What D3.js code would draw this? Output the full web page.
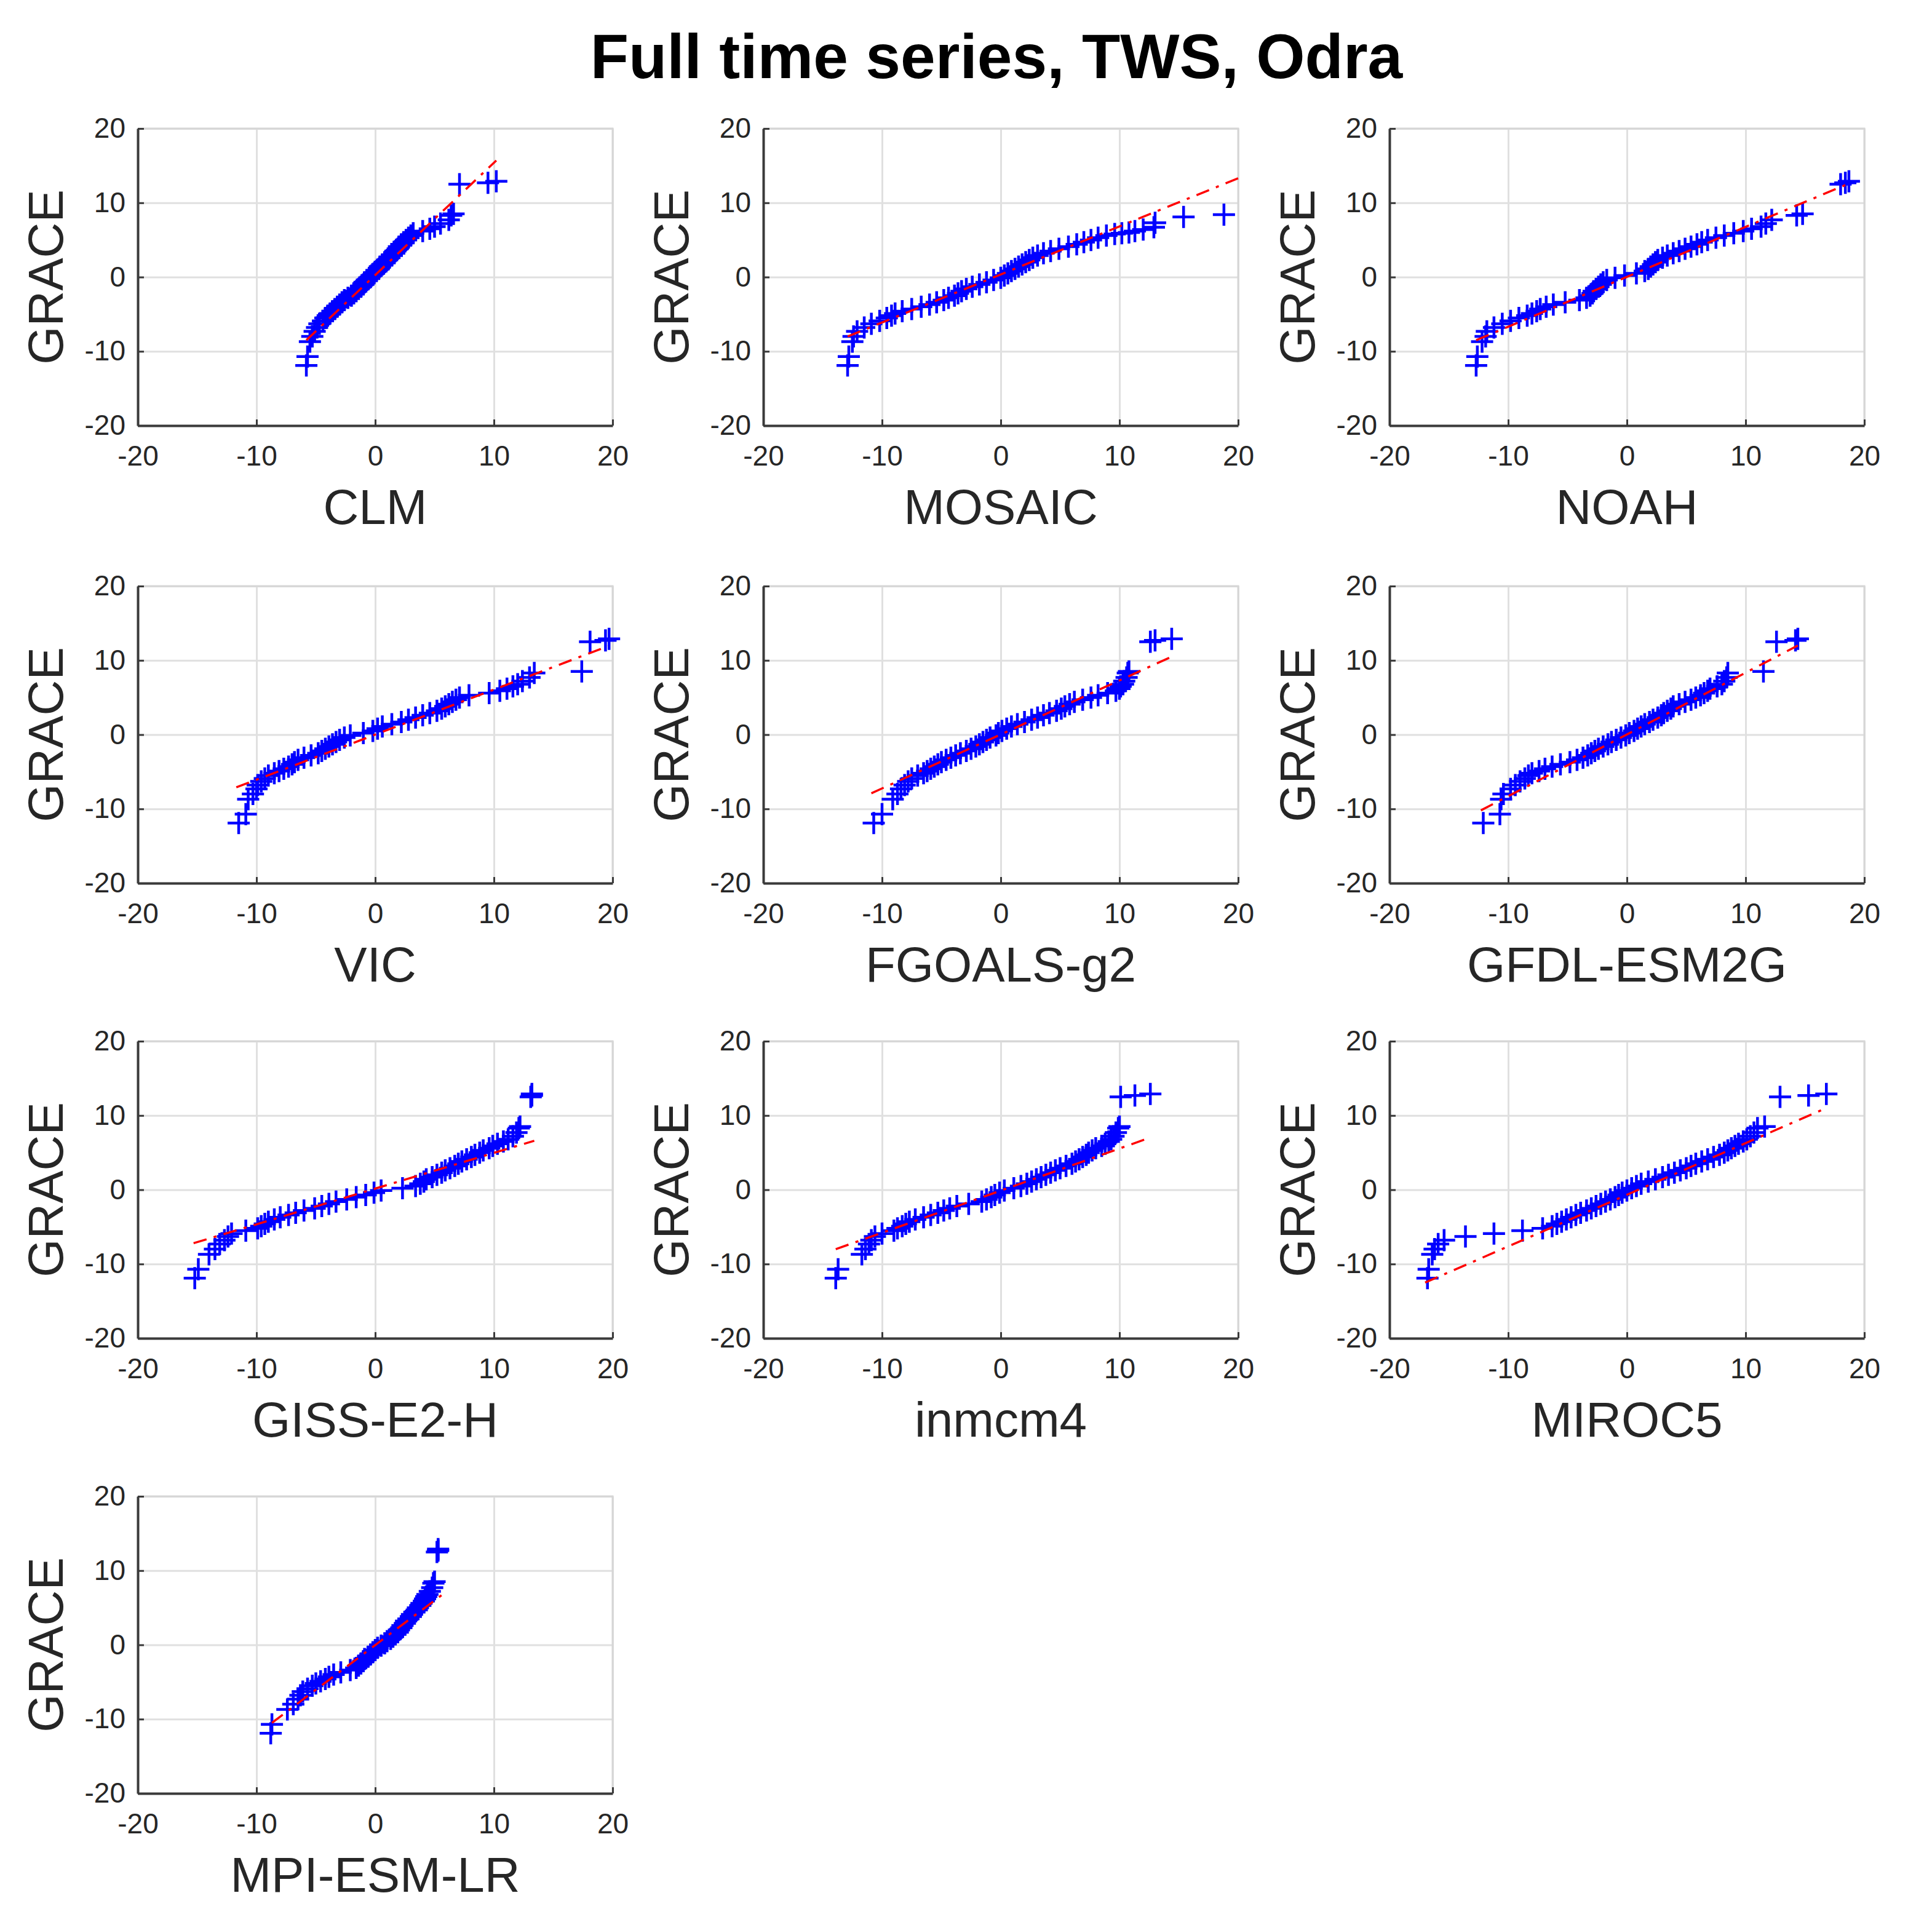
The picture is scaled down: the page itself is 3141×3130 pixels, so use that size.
<!DOCTYPE html>
<html>
<head>
<meta charset="utf-8">
<script src="https://cdn.jsdelivr.net/npm/d3@7"></script>
<style>
  body { margin: 0; background: #ffffff; }
  svg { display: block; }
</style>
</head>
<body>
<div id="chart"></div>
<script>
// Q-Q plots of GRACE TWS against each model, Odra basin

var models = ["CLM", "MOSAIC", "NOAH", "VIC", "FGOALS-g2", "GFDL-ESM2G",
              "GISS-E2-H", "inmcm4", "MIROC5", "MPI-ESM-LR"];

var tickValues = [-20, -10, 0, 10, 20];

// sorted GRACE quantiles (y axis of every panel except MOSAIC)
var graceQ = [-11.9, -10.7, -8.7, -8.0, -7.3, -6.8, -6.3, -5.9, -5.5, -5.2,
              -4.9, -4.6, -4.3, -4.0, -3.7, -3.4, -3.1, -2.8, -2.5, -2.2,
              -1.9, -1.6, -1.3, -1.0, -0.7, -0.4, -0.1, 0.2, 0.5, 0.8,
              1.1, 1.4, 1.7, 2.0, 2.3, 2.6, 2.9, 3.2, 3.5, 3.8,
              4.1, 4.4, 4.7, 5.0, 5.3, 5.6, 5.9, 6.2, 6.5, 6.8,
              7.2, 7.7, 8.3, 8.5, 12.5, 12.7, 12.9];

// GRACE quantiles interpolated to the MOSAIC sample
var mosaicGraceQ = [-11.9, -10.7, -8.7, -8.0, -7.3, -6.8, -6.3, -5.9, -5.5, -5.2,
              -4.9, -4.6, -4.3, -4.0, -3.7, -3.4, -3.1, -2.8, -2.5, -2.2,
              -1.9, -1.6, -1.3, -1.0, -0.7, -0.4, -0.1, 0.2, 0.5, 0.8,
              1.1, 1.4, 1.7, 2.0, 2.3, 2.6, 2.9, 3.2, 3.5, 3.8,
              4.1, 4.4, 4.7, 5.0, 5.3, 5.6,
              5.8, 5.9, 6.0, 6.2, 6.4, 6.7, 7.3, 8.1, 8.4];

// sorted model quantiles (x axis)
var clmQ = [-5.8, -5.7, -5.5, -5.3, -5.1, -4.9, -4.7, -4.4, -4.2, -4.0,
            -3.8, -3.6, -3.4, -3.2, -3.0, -2.8, -2.6, -2.3, -2.0, -1.8,
            -1.6, -1.4, -1.2, -1.0, -0.9, -0.7, -0.5, -0.3, -0.1, 0.1,
            0.3, 0.4, 0.6, 0.8, 1.0, 1.2, 1.4, 1.6, 1.7, 1.9,
            2.0, 2.2, 2.4, 2.6, 2.8, 3.0, 3.2, 4.0, 4.6, 5.0,
            5.5, 6.2, 6.4, 6.6, 7.1, 9.5, 10.2];

var mosaicQ = [-12.9, -12.8, -12.5, -12.4, -12.1, -11.5, -10.9, -10.2, -9.6, -9.2,
               -8.9, -8.3, -7.5, -6.7, -6.0, -5.4, -4.8, -4.4, -3.9, -3.6,
               -3.3, -2.9, -2.4, -1.8, -1.2, -0.6, 0.0, 0.3, 0.6, 0.9,
               1.2, 1.5, 1.8, 2.1, 2.4, 2.7, 3.1, 3.6, 4.2, 4.9,
               5.7, 6.4, 7.0, 7.6, 8.2, 8.9,
               9.6, 10.2, 10.8, 11.3, 12.0, 12.9, 13.0, 15.4, 18.8];

var noahQ = [-12.7, -12.6, -12.2, -11.9, -11.8, -11.2, -10.5, -9.8, -9.1, -8.4,
             -8.0, -7.6, -7.3, -6.8, -6.2, -5.2, -4.0, -3.4, -3.1, -2.9,
             -2.8, -2.6, -2.4, -2.2, -2.0, -1.7, -1.0, -0.2, 0.8, 1.5,
             1.8, 2.0, 2.2, 2.4, 2.6, 3.0, 3.4, 3.9, 4.4, 4.9,
             5.4, 5.9, 6.3, 6.8, 7.5, 8.2, 9.0, 9.8, 10.5, 11.3,
             11.7, 12.2, 14.3, 14.8, 18.0, 18.4, 18.7];

var vicQ = [-11.5, -10.9, -10.7, -10.3, -10.0, -9.9, -9.6, -9.3, -9.0, -8.5,
            -8.1, -7.7, -7.3, -7.0, -6.8, -6.5, -6.0, -5.4, -4.8, -4.5,
            -4.2, -3.9, -3.6, -3.3, -3.0, -2.6, -2.1, -1.0, -0.2, 0.2,
            0.6, 1.4, 2.2, 2.8, 3.4, 4.0, 4.6, 5.2, 5.6, 5.9,
            6.2, 6.5, 6.8, 7.1, 7.9, 9.6, 10.5, 11.1, 11.6, 12.0,
            12.4, 13.0, 13.4, 17.4, 18.1, 19.4, 19.7];

var fgoalsQ = [-10.7, -10.0, -9.1, -8.7, -8.4, -8.1, -7.8, -7.5, -7.0, -6.5,
               -6.2, -5.9, -5.6, -5.3, -5.0, -4.6, -4.2, -3.8, -3.4, -2.9,
               -2.5, -2.1, -1.8, -1.5, -1.2, -0.9, -0.4, -0.2, 0.1, 0.5,
               0.9, 1.4, 2.0, 2.6, 3.1, 3.6, 4.1, 4.7, 5.1, 5.4,
               5.8, 6.2, 6.9, 7.6, 8.2, 9.0, 9.7, 10.0, 10.1, 10.3,
               10.4, 10.6, 10.7, 10.8, 12.6, 13.0, 14.4];

var gfdlQ = [-12.1, -10.7, -10.6, -10.4, -9.8, -9.4, -9.0, -8.6, -8.3, -8.0,
             -7.4, -6.9, -6.3, -5.6, -4.8, -4.2, -3.7, -3.3, -3.0, -2.7,
             -2.4, -2.0, -1.6, -1.3, -0.9, -0.5, -0.1, 0.2, 0.6, 0.9,
             1.2, 1.5, 1.9, 2.2, 2.6, 2.9, 3.1, 3.4, 3.7, 3.9,
             4.4, 4.9, 5.4, 5.8, 6.2, 6.5, 6.8, 7.0, 7.6, 8.0,
             8.2, 8.4, 8.5, 11.5, 12.6, 14.2, 14.4];

var gissQ = [-15.2, -14.9, -14.0, -13.5, -13.1, -12.7, -12.4, -12.1, -10.9, -9.9,
             -9.6, -9.3, -9.0, -8.5, -8.0, -7.3, -6.7, -6.0, -5.1, -4.5,
             -3.9, -3.3, -2.4, -1.6, -0.8, -0.1, 0.5, 2.3, 3.4, 3.8,
             4.1, 4.3, 4.8, 5.2, 5.6, 5.9, 6.3, 6.7, 7.0, 7.3,
             7.7, 8.1, 8.4, 8.8, 9.1, 9.6, 9.9, 10.3, 10.8, 11.2,
             11.6, 11.9, 12.1, 12.2, 13.1, 13.2, 13.2];

var inmcm4Q = [-13.9, -13.7, -11.7, -11.4, -11.1, -10.9, -10.6, -10.0, -9.0, -8.7,
               -8.3, -8.0, -7.7, -7.2, -6.5, -5.9, -5.3, -4.8, -4.3, -3.7,
               -2.7, -1.6, -1.2, -0.8, -0.5, -0.1, 0.3, 1.1, 1.7, 2.2,
               2.6, 3.0, 3.4, 3.8, 4.2, 4.6, 5.0, 5.5, 6.0, 6.3,
               6.6, 6.9, 7.2, 7.4, 7.7, 8.0, 8.5, 8.8, 9.1, 9.3,
               9.5, 9.7, 9.9, 10.0, 10.1, 11.3, 12.6];

var miroc5Q = [-16.8, -16.7, -16.4, -16.2, -15.9, -15.4, -13.6, -11.2, -8.8, -7.1,
               -6.3, -5.9, -5.5, -5.1, -4.7, -4.3, -3.9, -3.4, -3.0, -2.6,
               -2.2, -1.8, -1.4, -1.0, -0.7, -0.4, 0.0, 0.4, 0.8, 1.2,
               1.8, 2.4, 3.0, 3.5, 4.0, 4.5, 5.0, 5.4, 5.8, 6.3,
               6.8, 7.3, 7.8, 8.2, 8.5, 8.8, 9.1, 9.4, 9.8, 10.1,
               10.4, 10.7, 11.0, 11.6, 12.9, 15.3, 16.8];

var mpiQ = [-8.8, -8.7, -7.4, -6.9, -6.5, -6.3, -6.1, -5.7, -5.3, -5.0,
            -4.6, -4.2, -3.9, -3.5, -2.9, -2.1, -1.6, -1.4, -1.2, -1.0,
            -0.9, -0.6, -0.4, -0.2, 0.0, 0.2, 0.5, 0.8, 1.0, 1.3,
            1.5, 1.7, 1.9, 2.0, 2.2, 2.3, 2.5, 2.6, 2.8, 3.0,
            3.1, 3.3, 3.5, 3.6, 3.8, 3.9, 4.1, 4.2, 4.3, 4.4,
            4.6, 4.8, 4.9, 5.0, 5.2, 5.3, 5.3];

// quartile reference lines, [x1, y1, x2, y2]
var refLines = [[-5.8, -8.5, 10.2, 15.7],
                [-12.9, -8.0, 20.0, 13.3],
                [-12.7, -8.5, 18.7, 12.6],
                [-11.7, -7.1, 19.6, 11.9],
                [-10.9, -7.9, 14.4, 10.5],
                [-12.3, -10.2, 14.4, 12.0],
                [-15.3, -7.2, 13.4, 6.6],
                [-13.9, -8.0, 12.2, 6.8],
                [-17.0, -12.5, 16.5, 10.8],
                [-8.7, -10.5, 5.6, 6.7]];

var modelQ = [clmQ, mosaicQ, noahQ, vicQ, fgoalsQ, gfdlQ, gissQ, inmcm4Q, miroc5Q, mpiQ];
var graceFor = [graceQ, mosaicGraceQ, graceQ, graceQ, graceQ, graceQ, graceQ, graceQ, graceQ, graceQ];

var W = 3141, H = 3130;
var colLeft = [224, 1241, 2259];
var rowTop = [209, 953, 1693, 2433];
var pw = 772, ph = 483;
var font = "'Liberation Sans', Arial, Helvetica, sans-serif";

var svg = d3.select("#chart")
    .append("svg")
    .attr("width", W)
    .attr("height", H);

svg.append("rect")
    .attr("width", W)
    .attr("height", H)
    .attr("fill", "#ffffff");

svg.append("text")
    .attr("x", 1620)
    .attr("y", 127)
    .attr("text-anchor", "middle")
    .style("font-family", font)
    .style("font-size", "102px")
    .style("font-weight", "bold")
    .style("fill", "#000000")
    .text("Full time series, TWS, Odra");

models.forEach(function(name, i) {
    var left = colLeft[i % 3];
    var top = rowTop[Math.floor(i / 3)];

    var x = d3.scaleLinear().domain([-20, 20]).range([left, left + pw]);
    var y = d3.scaleLinear().domain([-20, 20]).range([top + ph, top]);

    var g = svg.append("g");

    // grid
    g.append("g")
        .attr("transform", "translate(0," + (top + ph) + ")")
        .call(d3.axisBottom(x).tickValues(tickValues).tickSize(-ph).tickFormat(""))
        .call(function(s) { s.select(".domain").remove(); })
        .selectAll("line")
        .attr("stroke", "#e0e0e0")
        .attr("stroke-width", 3);

    g.append("g")
        .attr("transform", "translate(" + left + ",0)")
        .call(d3.axisLeft(y).tickValues(tickValues).tickSize(-pw).tickFormat(""))
        .call(function(s) { s.select(".domain").remove(); })
        .selectAll("line")
        .attr("stroke", "#e0e0e0")
        .attr("stroke-width", 3);

    // light top / right box edges
    g.append("path")
        .attr("d", "M" + left + "," + top + "H" + (left + pw) + "V" + (top + ph))
        .attr("fill", "none")
        .attr("stroke", "#d6d6d6")
        .attr("stroke-width", 3);

    // points
    var xs = modelQ[i], ys = graceFor[i];
    var n = Math.min(xs.length, ys.length);
    var pts = d3.range(n).map(function(k) { return [xs[k], ys[k]]; });

    g.selectAll("path.pt")
        .data(pts)
        .enter()
        .append("path")
        .attr("class", "pt")
        .attr("d", "M-18,0H18M0,-18V18")
        .attr("transform", function(d) { return "translate(" + x(d[0]) + "," + y(d[1]) + ")"; })
        .attr("stroke", "#0000ff")
        .attr("stroke-width", 4.5)
        .attr("fill", "none");

    // reference line
    var r = refLines[i];
    g.append("path")
        .datum([[r[0], r[1]], [r[2], r[3]]])
        .attr("d", d3.line().x(function(d) { return x(d[0]); }).y(function(d) { return y(d[1]); }))
        .attr("fill", "none")
        .attr("stroke", "#ff0000")
        .attr("stroke-width", 3.5)
        .attr("stroke-dasharray", "22,12,5,12");

    // axes
    var fmt = function(d) { return String(d); };
    var xAx = g.append("g")
        .attr("transform", "translate(0," + (top + ph) + ")")
        .call(d3.axisBottom(x).tickValues(tickValues).tickFormat(fmt)
              .tickSize(-10).tickSizeOuter(0).tickPadding(32));
    var yAx = g.append("g")
        .attr("transform", "translate(" + left + ",0)")
        .call(d3.axisLeft(y).tickValues(tickValues).tickFormat(fmt)
              .tickSize(-10).tickSizeOuter(0).tickPadding(20));

    [xAx, yAx].forEach(function(ax) {
        ax.select(".domain").attr("stroke", "#3a3a3a").attr("stroke-width", 4);
        ax.selectAll(".tick line").attr("stroke", "#3a3a3a").attr("stroke-width", 3);
        ax.selectAll("text")
            .style("font-family", font)
            .style("font-size", "46px")
            .style("fill", "#262626");
    });

    // labels
    g.append("text")
        .attr("x", left + pw / 2)
        .attr("y", top + ph + 160)
        .attr("text-anchor", "middle")
        .style("font-family", font)
        .style("font-size", "80px")
        .style("fill", "#262626")
        .text(name);

    g.append("text")
        .attr("transform", "translate(" + (left - 122) + "," + (top + ph / 2) + ") rotate(-90)")
        .attr("text-anchor", "middle")
        .style("font-family", font)
        .style("font-size", "80px")
        .style("fill", "#262626")
        .text("GRACE");
});
</script>
</body>
</html>
